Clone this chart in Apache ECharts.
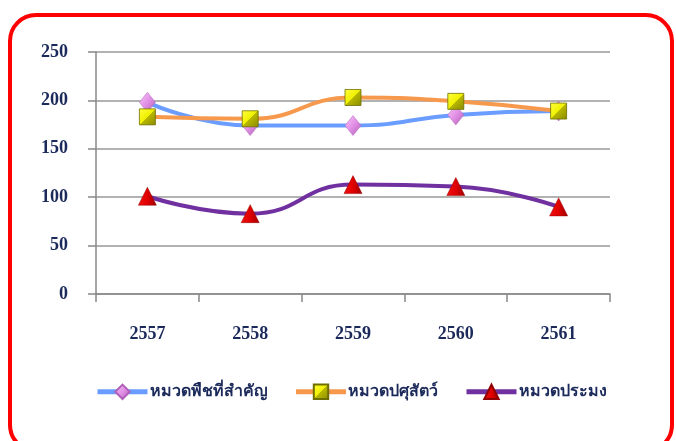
<!DOCTYPE html>
<html><head><meta charset="utf-8">
<script src="https://cdn.jsdelivr.net/npm/echarts@6/dist/echarts.min.js"></script>
<style>html,body{margin:0;padding:0;background:#fff;}#c{width:676px;height:441px;}</style>
</head><body><div id="c"></div>
<script>
const categories = ['2557','2558','2559','2560','2561'];
const seriesNames = ['หมวดพืชที่สำคัญ','หมวดปศุสัตว์','หมวดประมง'];
const cropValues = [198, 174, 174, 185, 189];
const livestockValues = [183, 181, 203, 199, 189];
const fisheryValues = [101, 83, 113, 111, 90];
const yTicks = [0, 50, 100, 150, 200, 250];

const textColor = '#1B2A5A';
const font = '"Liberation Serif", "Times New Roman", serif';
const chart = echarts.init(document.getElementById('c'));

const diamondColor = {type:'linear',x:0,y:0,x2:1,y2:1,colorStops:[{offset:0,color:'#F6C8F6'},{offset:0.5,color:'#E290E6'},{offset:1,color:'#B060B8'}]};
const squareColor = {type:'linear',x:0,y:0,x2:1,y2:1,colorStops:[{offset:0,color:'#FFFF40'},{offset:0.5,color:'#F0F000'},{offset:0.5,color:'#B8B800'},{offset:1,color:'#8A8A00'}]};
const triColor = {type:'linear',x:0,y:0,x2:1,y2:0,colorStops:[{offset:0,color:'#F01010'},{offset:0.5,color:'#E00000'},{offset:1,color:'#A00000'}]};
const lineColors = ['#6A9DFF','#F7994D','#7030A0'];

chart.setOption({
  animation:false,
  backgroundColor:'#fff',
  graphic:[{type:'rect',shape:{x:10,y:15,width:662,height:436,r:26},style:{fill:'none',stroke:'#FF0000',lineWidth:4},z:-10}],
  grid:{left:96,right:66,top:52,bottom:147},
  xAxis:{type:'category',data:categories,boundaryGap:true,
    axisLine:{lineStyle:{color:'#888',width:1.5}},
    axisTick:{show:true,length:8,lineStyle:{color:'#888',width:1.5}},
    axisLabel:{margin:31,color:textColor,fontFamily:font,fontWeight:'bold',fontSize:18}},
  yAxis:{type:'value',min:yTicks[0],max:yTicks[yTicks.length-1],interval:50,
    axisLine:{show:true,lineStyle:{color:'#888',width:1.5}},
    axisTick:{show:true,length:8,lineStyle:{color:'#888',width:1.5}},
    splitLine:{lineStyle:{color:'#999',width:1.5}},
    axisLabel:{margin:28,color:textColor,fontFamily:font,fontWeight:'bold',fontSize:18}},
  legend:{bottom:36,left:90,itemWidth:50,itemHeight:18,itemGap:26,
    textStyle:{color:textColor,fontFamily:font,fontWeight:'bold',fontSize:16,padding:[0,0,0,-3]},
    data:seriesNames.map((n,i)=>({name:n,lineStyle:{width:5,color:lineColors[i]}}))},
  series:[
    {name:seriesNames[0],type:'line',data:cropValues,smooth:0.5,symbol:'diamond',symbolSize:[16,20],
     lineStyle:{color:lineColors[0],width:4},itemStyle:{color:diamondColor,borderColor:'#B060B8',borderWidth:0.5},z:2},
    {name:seriesNames[1],type:'line',data:livestockValues,smooth:0.5,symbol:'rect',symbolSize:16,
     lineStyle:{color:lineColors[1],width:4},itemStyle:{color:squareColor,borderColor:'#6E6E00',borderWidth:0.8},z:3},
    {name:seriesNames[2],type:'line',data:fisheryValues,smooth:0.5,symbol:'triangle',symbolSize:[18,18],
     lineStyle:{color:lineColors[2],width:4},itemStyle:{color:triColor,borderColor:'#900000',borderWidth:0.5},z:4}
  ]
});
</script></body></html>
